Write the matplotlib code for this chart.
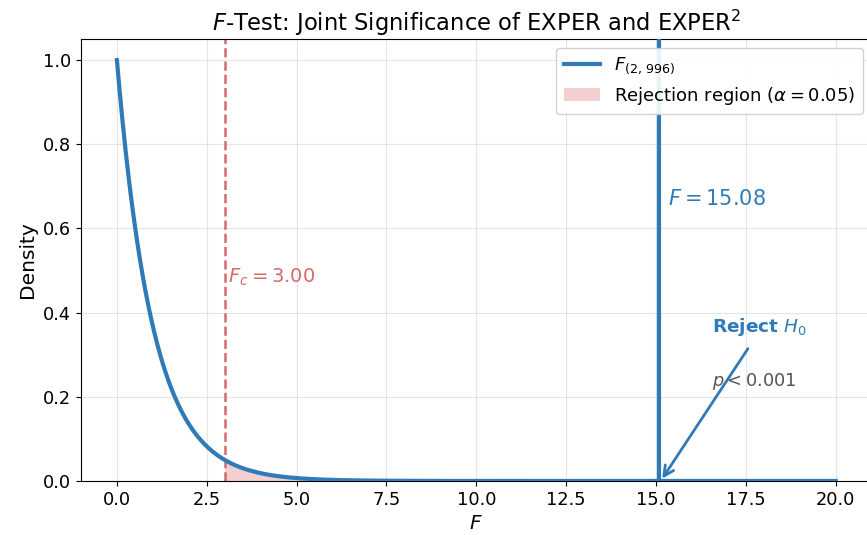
import numpy as np
import matplotlib
matplotlib.use("Agg")
import matplotlib.pyplot as plt

# F-test setup
DF1 = 2
DF2 = 996
F_STAT = 15.08
F_CRIT = 3.00
ALPHA = 0.05
X_MAX = 20.0

BLUE = "#2f7bb8"
RED = "#d46a6a"
FILL = "#f2c4c4"

plt.rcParams.update({"font.family": "DejaVu Sans", "mathtext.fontset": "dejavusans"})

x = np.linspace(0, X_MAX, 1000)
# density of F(2, d2): (1 + 2x/d2)^-(d2/2 + 1)
pdf = (1 + DF1 * x / DF2) ** (-(DF2 / 2 + 1))

fig = plt.figure(figsize=(8.67, 5.35), dpi=100)
ax = fig.add_axes([0.0934, 0.101, 0.912, 0.826])

ax.plot(x, pdf, color=BLUE, lw=3, label=r"$F_{(2,\,996)}$", zorder=3)
mask = x >= F_CRIT
ax.fill_between(x[mask], pdf[mask], color=FILL, alpha=0.8, lw=0,
                label=r"Rejection region ($\alpha = 0.05$)", zorder=2)
ax.axvline(F_CRIT, color=RED, ls="--", lw=1.8, zorder=2)
ax.axvline(F_STAT, color=BLUE, lw=3, zorder=3)

ax.text(F_CRIT + 0.1, 0.47, r"$F_c = %.2f$" % F_CRIT, color=RED, fontsize=14)
ax.text(F_STAT + 0.25, 0.655, r"$F = %.2f$" % F_STAT, color=BLUE, fontsize=15)
ax.annotate("", xy=(F_STAT + 0.05, 0.0), xytext=(17.6, 0.32),
            arrowprops=dict(arrowstyle="->", color=BLUE, lw=2, mutation_scale=18))
ax.text(16.55, 0.355, r"Reject $H_0$", color=BLUE, fontsize=13.3, fontweight="bold")
ax.text(16.55, 0.225, r"$p < 0.001$", color="#555555", fontsize=12.8)

ax.set_xlim(-1, 21)
ax.set_ylim(0, 1.05)
ax.set_xticks(np.arange(0, 20.1, 2.5))
ax.set_xlabel(r"$F$", fontsize=14.5)
ax.set_ylabel("Density", fontsize=14.5)
ax.set_title(r"$F$-Test: Joint Significance of EXPER and EXPER$^2$", fontsize=16.3)
ax.tick_params(labelsize=12.8)
ax.grid(True, color="#cccccc", alpha=0.5, lw=0.8)
ax.set_axisbelow(True)
ax.legend(loc="upper right", fontsize=13, framealpha=0.9)

fig.savefig("out.png", dpi=100)
